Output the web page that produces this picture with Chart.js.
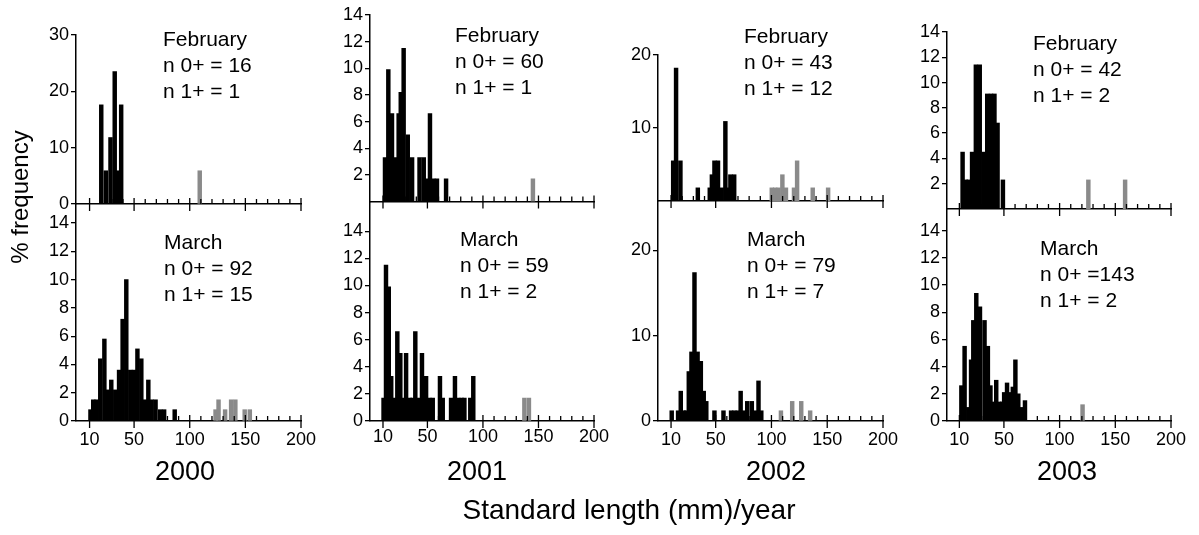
<!DOCTYPE html>
<html>
<head>
<meta charset="utf-8">
<script src="https://cdn.jsdelivr.net/npm/chart.js@4/dist/chart.umd.min.js"></script>
<style>
  body { margin: 0; background: #fff; }
  #wrap { position: relative; width: 1199px; height: 535px; font-family: "Liberation Sans", Arial, sans-serif; color: #000; }
  #wrap canvas { position: absolute; left: 0; top: 0; }
  .note { position: absolute; font-size: 21px; line-height: 26px; white-space: pre; }
  .year { position: absolute; width: 100px; text-align: center; font-size: 27px; line-height: 27px; }
</style>
</head>
<body>
<div id="wrap"></div>
<script>
// length classes (mm, middle of the bar) and % frequency; 0+ black, 1+ grey
var feb2000Young = [[20.5, 17.6], [24.6, 5.9], [28.8, 11.8], [32.6, 23.5], [35.4, 5.9], [38.4, 17.6]];
var feb2000Old = [[109, 5.9]];
var mar2000Young = [[10.8, 0.8], [13.3, 1.5], [16.3, 1.5], [19.6, 4.4], [23.3, 5.8], [26.5, 2.2], [29.5, 2.9],
  [33.1, 2.2], [36.5, 3.6], [39.7, 7.2], [43, 10], [46.6, 3.6], [49.9, 3.6], [53, 5.1], [56.5, 4.4],
  [59.8, 1.5], [62.8, 2.9], [65.8, 1.5], [69.3, 1.5], [73.5, 0.8], [77, 0.8], [86.5, 0.8]];
var mar2000Old = [[123.2, 0.8], [125.9, 1.5], [131.8, 0.8], [137.2, 1.5], [141, 1.5], [149.4, 0.8], [154, 0.8]];

var feb2001Young = [[11.8, 3.3], [14.8, 9.9], [18.1, 6.6], [21.4, 3.3], [24.1, 6.6], [26, 8.2], [28.6, 11.5],
  [32.3, 5.0], [36.2, 3.3], [42.9, 3.3], [46.7, 3.3], [49.8, 1.7], [52.3, 6.6], [55.3, 1.7], [58.6, 1.7], [66.8, 1.7]];
var feb2001Old = [[145, 1.7]];
var mar2001Young = [[10.5, 1.7], [12.7, 11.5], [15.2, 9.9], [17.4, 3.3], [19.9, 1.7], [22.9, 6.6], [25.6, 5.0],
  [27.8, 1.7], [30.8, 5.0], [34.2, 1.7], [36.6, 1.7], [39.1, 6.6], [42.1, 1.7], [45.1, 5.0], [48.8, 3.3],
  [51.8, 1.7], [54.8, 1.7], [61.3, 3.3], [63.8, 1.7], [71.3, 1.7], [74.8, 3.3], [77.8, 1.7], [80.8, 1.7],
  [83.3, 1.7], [88.6, 1.7], [91.3, 3.3]];
var mar2001Old = [[137.3, 1.7], [141.4, 1.7]];

var feb2002Young = [[11.9, 5.5], [14.5, 18.2], [18.4, 5.5], [34, 1.8], [44.7, 1.8], [46.6, 3.6], [48.9, 5.5],
  [52.1, 5.5], [55.4, 1.8], [58.7, 10.9], [61.2, 1.8], [63.2, 3.6], [66.6, 3.6]];
var feb2002Old = [[100.3, 1.8], [103.3, 1.8], [106.3, 1.8], [109.8, 3.6], [113, 1.8], [120.2, 1.8], [123, 5.5],
  [137, 1.8], [150.8, 1.8]];
var mar2002Young = [[10.6, 1.2], [16.3, 1.2], [18.7, 3.5], [21.3, 1.2], [23.5, 1.2], [25.9, 5.8], [28.3, 8.1],
  [31, 17.4], [33.8, 8.1], [36.7, 7.0], [39.3, 3.5], [41.6, 2.3], [48.9, 1.2], [57, 1.2], [63.8, 1.2],
  [66.8, 1.2], [69.8, 1.2], [72.4, 3.5], [75.3, 1.2], [78.3, 2.3], [82.4, 2.3], [85.7, 1.2], [88.4, 4.7], [90.9, 1.2]];
var mar2002Old = [[108.5, 1.2], [118.6, 2.3], [126.7, 2.3], [134.7, 1.2]];

var feb2003Young = [[12.9, 4.5], [15.7, 2.3], [18.4, 2.3], [21.4, 4.5], [24.8, 11.4], [28.3, 11.4], [31.7, 4.5],
  [35, 9.1], [38.4, 9.1], [41.5, 9.1], [44.3, 6.8], [49.1, 2.3]];
var feb2003Old = [[125.8, 2.3], [158.8, 2.3]];
var mar2003Young = [[11.8, 2.6], [14.7, 5.5], [18, 1.0], [20.5, 4.5], [22.5, 7.4], [25.2, 9.4], [28.5, 8.4],
  [32.6, 7.4], [35.6, 5.5], [37.9, 2.6], [40.6, 1.4], [43.1, 3.0], [45.8, 1.4], [48.5, 1.4], [50.2, 2.1],
  [52.8, 2.8], [55.8, 2.1], [58, 2.5], [60.3, 4.5], [62.9, 2.0], [65.8, 1.0], [68.9, 1.5]];
var mar2003Old = [[120.6, 1.2]];

// tick labels
var xMajorTicks = [10, 50, 100, 150, 200];
var xMinorTicks = [20, 30, 40, 60, 70, 80, 90, 110, 120, 130, 140, 160, 170, 180, 190];
var yTicks2000Feb = [0, 10, 20, 30];
var yTicks2002Feb = [10, 20];
var yTicksFeb = [2, 4, 6, 8, 10, 12, 14];
var yTicksMar = [0, 2, 4, 6, 8, 10, 12, 14];
var yTicks2002Mar = [0, 10, 20];

var W = 1199, H = 535, Y_AXIS_W = 50;

// one panel per month and year: chart area box in page pixels
var panels = [
  { young: feb2000Young, old: feb2000Old, yTicks: yTicks2000Feb, yMax: 30, xMin: -2.2, left: 76, right: 301, top: 35, bottom: 204,
    note: ['February', 'n 0+ = 16', 'n 1+ = 1'], noteX: 163, noteY: 39 },
  { young: mar2000Young, old: mar2000Old, yTicks: yTicksMar, yMax: 15.35, xMin: -2.2, left: 76, right: 301, top: 204, bottom: 421,
    note: ['March', 'n 0+ = 92', 'n 1+ = 15'], noteX: 164, noteY: 242, labels: 440 },
  { young: feb2001Young, old: feb2001Old, yTicks: yTicksFeb, yMax: 14, xMin: -1.7, left: 370, right: 594, top: 15, bottom: 201.5,
    note: ['February', 'n 0+ = 60', 'n 1+ = 1'], noteX: 455, noteY: 35 },
  { young: mar2001Young, old: mar2001Old, yTicks: yTicksMar, yMax: 16.2, xMin: -1.7, left: 370, right: 594, top: 201.5, bottom: 421,
    note: ['March', 'n 0+ = 59', 'n 1+ = 2'], noteX: 460, noteY: 239, labels: 437 },
  { young: feb2002Young, old: feb2002Old, yTicks: yTicks2002Feb, yMax: 20, xMin: -1.7, left: 658, right: 883, top: 55, bottom: 201,
    note: ['February', 'n 0+ = 43', 'n 1+ = 12'], noteX: 744, noteY: 36 },
  { young: mar2002Young, old: mar2002Old, yTicks: yTicks2002Mar, yMax: 25.8, xMin: -1.7, left: 658, right: 883, top: 201, bottom: 421,
    note: ['March', 'n 0+ = 79', 'n 1+ = 7'], noteX: 747, noteY: 239, labels: 440 },
  { young: feb2003Young, old: feb2003Old, yTicks: yTicksFeb, yMax: 14, xMin: -1.1, left: 947, right: 1171, top: 32, bottom: 209,
    note: ['February', 'n 0+ = 42', 'n 1+ = 2'], noteX: 1033, noteY: 43 },
  { young: mar2003Young, old: mar2003Old, yTicks: yTicksMar, yMax: 15.6, xMin: -1.1, left: 947, right: 1171, top: 209, bottom: 421,
    note: ['March', 'n 0+ =143', 'n 1+ = 2'], noteX: 1040, noteY: 248, labels: 440 }
];

var years = [['2000', 185], ['2001', 477], ['2002', 776], ['2003', 1067]];

// x ticks: minor ones point inwards, major ones cross the axis
var xTickPlugin = {
  id: 'xticks',
  afterDraw: function(chart, args, opts) {
    var ctx = chart.ctx;
    var xs = chart.scales.x;
    var y0 = chart.chartArea.bottom;
    ctx.save();
    ctx.strokeStyle = '#000';
    ctx.lineWidth = 1.3;
    ctx.beginPath();
    xMinorTicks.forEach(function(v) {
      var px = xs.getPixelForValue(v);
      ctx.moveTo(px, y0);
      ctx.lineTo(px, y0 - 5);
    });
    xMajorTicks.forEach(function(v) {
      var px = xs.getPixelForValue(v);
      ctx.moveTo(px, y0 - 6);
      ctx.lineTo(px, y0 + 7);
    });
    ctx.stroke();
    if (opts.labelY) {
      ctx.fillStyle = '#000';
      ctx.font = '18px "Liberation Sans", Arial, sans-serif';
      ctx.textAlign = 'center';
      ctx.textBaseline = 'middle';
      xMajorTicks.forEach(function(v) {
        ctx.fillText(String(v), xs.getPixelForValue(v), opts.labelY);
      });
    }
    ctx.restore();
  }
};

function toPoints(pairs) {
  return pairs.map(function(p) { return { x: p[0], y: p[1] }; });
}

var wrap = document.getElementById('wrap');

panels.forEach(function(p) {
  var canvas = document.createElement('canvas');
  canvas.width = W;
  canvas.height = H;
  wrap.appendChild(canvas);

  new Chart(canvas.getContext('2d'), {
    type: 'bar',
    data: {
      datasets: [
        { data: toPoints(p.young), backgroundColor: '#000', grouped: false, barThickness: 3.8 },
        { data: toPoints(p.old), backgroundColor: '#8a8a8a', grouped: false, barThickness: 3.8 }
      ]
    },
    options: {
      responsive: false,
      animation: false,
      events: [],
      layout: { padding: { left: p.left - Y_AXIS_W, right: W - p.right, top: p.top, bottom: H - p.bottom } },
      plugins: {
        legend: { display: false },
        tooltip: { enabled: false },
        xticks: { labelY: p.labels }
      },
      scales: {
        x: {
          type: 'linear',
          offset: false,
          min: p.xMin,
          max: 200,
          ticks: { display: false },
          grid: { display: false, offset: false },
          border: { color: '#000', width: 1.5 },
          afterFit: function(s) { s.height = 0; s.paddingLeft = 0; s.paddingRight = 0; }
        },
        y: {
          min: 0,
          max: p.yMax,
          afterBuildTicks: function(s) { s.ticks = p.yTicks.map(function(v) { return { value: v }; }); },
          ticks: { color: '#000', padding: 2, font: { size: 18, family: '"Liberation Sans", Arial, sans-serif' } },
          grid: { drawOnChartArea: false, tickLength: 5, color: '#000', lineWidth: 1.3 },
          border: { color: '#000', width: 1.5 },
          afterFit: function(s) { s.width = Y_AXIS_W; s.paddingTop = 0; s.paddingBottom = 0; }
        }
      }
    },
    plugins: [xTickPlugin]
  });

  var note = document.createElement('div');
  note.className = 'note';
  note.style.left = p.noteX + 'px';
  note.style.top = (p.noteY - 13) + 'px';
  note.textContent = p.note.join('\n');
  wrap.appendChild(note);
});

years.forEach(function(y) {
  var d = document.createElement('div');
  d.className = 'year';
  d.style.left = (y[1] - 50) + 'px';
  d.style.top = '458px';
  d.textContent = y[0];
  wrap.appendChild(d);
});

var xTitle = document.createElement('div');
xTitle.style.cssText = 'position:absolute;left:329px;top:496px;width:600px;text-align:center;font-size:28px;line-height:28px;';
xTitle.textContent = 'Standard length (mm)/year';
wrap.appendChild(xTitle);

var yTitle = document.createElement('div');
yTitle.style.cssText = 'position:absolute;left:-80px;top:184px;width:200px;text-align:center;font-size:24px;line-height:26px;transform:rotate(-90deg);';
yTitle.textContent = '% frequency';
wrap.appendChild(yTitle);
</script>
</body>
</html>
